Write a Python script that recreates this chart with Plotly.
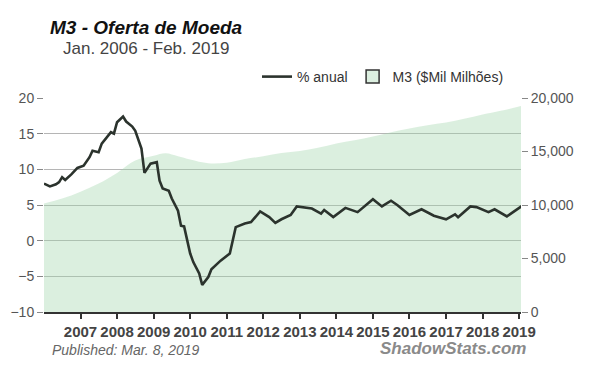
import plotly.graph_objects as go

# M3 money supply ($ billions), read from the shaded area (right axis)
m3_dates = ["2006-01", "2006-07", "2007-01", "2007-07", "2008-01", "2008-07",
            "2009-01", "2009-05", "2009-09", "2010-01", "2010-07", "2011-01",
            "2011-07", "2012-01", "2012-07", "2013-01", "2013-07", "2014-01",
            "2014-07", "2015-01", "2015-07", "2016-01", "2016-07", "2017-01",
            "2017-07", "2018-01", "2018-07", "2019-02"]
m3_values = [10150, 10600, 11250, 12000, 13000, 14150,
             14600, 14830, 14550, 14250, 13900, 13950,
             14300, 14550, 14850, 15050, 15350, 15750,
             16050, 16400, 16800, 17150, 17450, 17700,
             18050, 18450, 18800, 19270]

# Annual % change (left axis)
pct_dates = ["2006-01", "2006-03", "2006-05", "2006-06", "2006-07", "2006-08",
             "2006-10", "2006-12", "2007-02", "2007-04", "2007-05", "2007-07",
             "2007-08", "2007-10", "2007-11", "2007-12", "2008-01", "2008-03",
             "2008-04", "2008-06", "2008-07", "2008-09", "2008-10", "2008-12",
             "2009-02", "2009-03", "2009-04", "2009-06", "2009-07", "2009-09",
             "2009-10", "2009-11", "2010-01", "2010-02", "2010-04", "2010-05",
             "2010-07", "2010-08", "2010-11", "2011-02", "2011-03", "2011-04",
             "2011-07", "2011-09", "2011-12", "2012-03", "2012-05", "2012-07",
             "2012-10", "2012-12", "2013-05", "2013-08", "2013-09", "2013-12",
             "2014-04", "2014-08", "2015-01", "2015-04", "2015-07", "2015-09",
             "2016-01", "2016-05", "2016-09", "2017-01", "2017-04", "2017-05",
             "2017-09", "2017-11", "2018-03", "2018-05", "2018-09", "2019-02"]
pct_values = [8.0, 7.6, 7.9, 8.2, 8.9, 8.5,
              9.3, 10.2, 10.5, 11.7, 12.6, 12.4,
              13.6, 14.7, 15.2, 15.0, 16.6, 17.4,
              16.7, 16.0, 15.4, 12.9, 9.5, 10.8,
              11.0, 8.4, 7.3, 7.0, 5.9, 4.2,
              2.1, 2.0, -1.8, -3.0, -4.6, -6.2,
              -5.1, -4.0, -2.8, -1.8, 0.0, 1.9,
              2.4, 2.6, 4.1, 3.3, 2.5, 3.0,
              3.6, 4.8, 4.5, 3.8, 4.3, 3.3,
              4.6, 4.0, 5.8, 4.8, 5.6, 5.0,
              3.6, 4.4, 3.5, 3.0, 3.7, 3.3,
              4.8, 4.7, 4.0, 4.4, 3.4, 4.9]

year_ticks = [f"{y}-01-01" for y in range(2007, 2020)]
year_labels = [str(y) for y in range(2007, 2020)]
left_ticks = [-10, -5, 0, 5, 10, 15, 20]
right_ticks = [0, 5000, 10000, 15000, 20000]

LINE = "#2b332d"
FILL = "rgba(160,212,172,0.38)"
FONT = "Liberation Sans, Arial, sans-serif"

fig = go.Figure()

# M3 area (main y axis, drawn at right)
fig.add_trace(go.Scatter(
    x=m3_dates, y=m3_values, yaxis="y", mode="lines",
    line=dict(width=0, color=FILL, shape="spline"), fill="tozeroy",
    fillcolor=FILL, showlegend=False, hoverinfo="skip"))

# legend-only entry for M3 (box symbol)
fig.add_trace(go.Scatter(
    x=[None], y=[None], yaxis="y", mode="markers",
    marker=dict(symbol="square", size=13, color="#dcefe0",
                line=dict(color="#333", width=1.5)),
    name="M3 ($Mil Milhões)"))

# annual % line (overlay axis, drawn at left)
fig.add_trace(go.Scatter(
    x=pct_dates, y=pct_values, yaxis="y2", mode="lines",
    line=dict(color=LINE, width=2.6), name="% anual"))

# page body has an 8px default top margin: figure is 592x377
PT, PB = 98, 312  # plot top/bottom in page pixels
PL, PW = 44, 477  # plot left / width in page pixels
fig.update_layout(
    width=592, height=377,
    margin=dict(l=36, r=79, t=90, b=73, autoexpand=False),
    paper_bgcolor="white", plot_bgcolor="white",
    font=dict(family=FONT, color="#555", size=14),
    xaxis=dict(
        type="date", range=["2006-01-01", "2019-01-20"],
        tickmode="array", tickvals=year_ticks, ticktext=year_labels,
        tickfont=dict(family=FONT, size=15, color="#444", weight="bold"),
        ticks="outside", ticklen=5, tickwidth=1.5, tickcolor="#333",
        showline=True, linecolor="#333", linewidth=1.5,
        showgrid=False, zeroline=False, fixedrange=True),
    yaxis=dict(
        side="right", range=[0, 20000],
        tickmode="array", tickvals=right_ticks,
        ticktext=[f"{v:,}" for v in right_ticks],
        tickfont=dict(size=14, color="#555"),
        ticks="outside", ticklen=6, tickcolor="#888",
        showgrid=False, zeroline=False, showline=False),
    yaxis2=dict(
        overlaying="y", side="left", range=[-10, 20],
        tickmode="array", tickvals=left_ticks,
        tickfont=dict(size=14, color="#555"),
        ticks="outside", ticklen=6, tickcolor="#888",
        showgrid=True, gridcolor="#b5b5b5", gridwidth=1.2,
        zeroline=False, showline=False),
    legend=dict(
        orientation="h", x=1 - 12 / PW, xanchor="right", y=1 + (PT - 77) / 214,
        yanchor="middle", font=dict(size=14, color="#333"),
        bgcolor="rgba(0,0,0,0)", traceorder="reversed", itemwidth=30),
    annotations=[
        dict(text="<b><i>M3 - Oferta de Moeda</i></b>", xref="paper", yref="paper",
             x=(48 - PL) / PW, y=1 + (PT - 27) / 214, xanchor="left", yanchor="middle",
             showarrow=False, font=dict(size=19, color="#111")),
        dict(text="Jan. 2006 - Feb. 2019", xref="paper", yref="paper",
             x=(61 - PL) / PW, y=1 + (PT - 48) / 214, xanchor="left", yanchor="middle",
             showarrow=False, font=dict(size=17, color="#444")),
        dict(text="<i>Published: Mar. 8, 2019</i>", xref="paper", yref="paper",
             x=(50 - PL) / PW, y=-(350 - PB) / 214, xanchor="left", yanchor="middle",
             showarrow=False, font=dict(size=14, color="#666")),
        dict(text="<b><i>ShadowStats.com</i></b>", xref="paper", yref="paper",
             x=(528 - PL) / PW, y=-(348 - PB) / 214, xanchor="right", yanchor="middle",
             showarrow=False, font=dict(size=17, color="#8a8a8a")),
    ],
)

fig.write_html("out.html")
